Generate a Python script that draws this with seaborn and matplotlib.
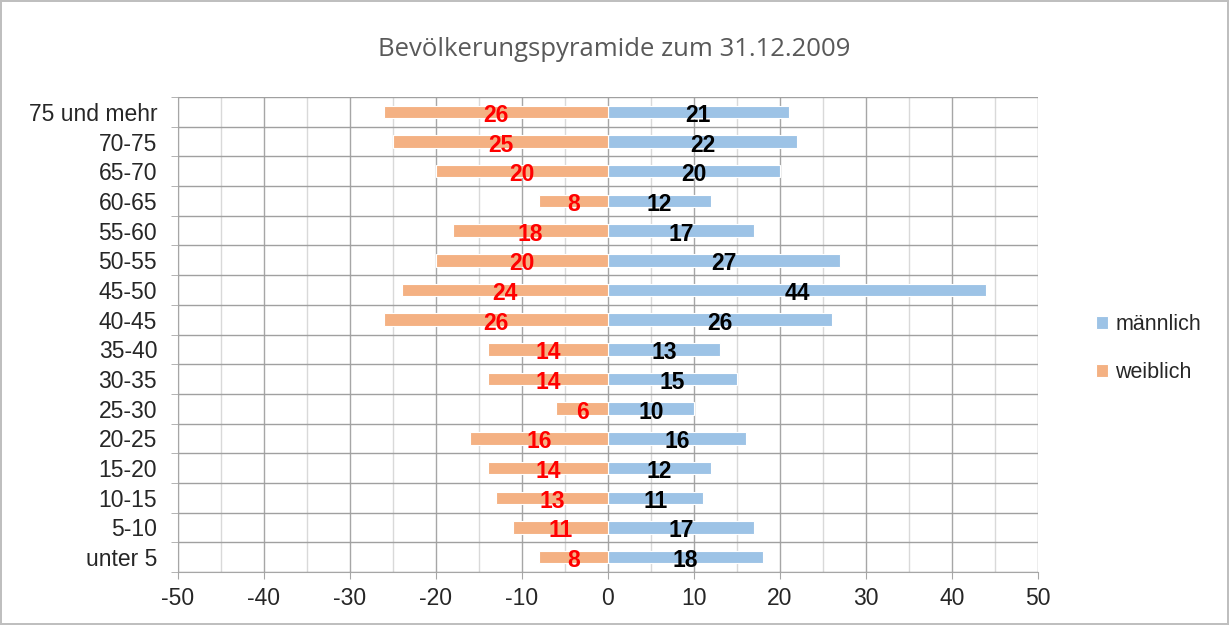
import pandas as pd
import matplotlib.pyplot as plt
import seaborn as sns
from matplotlib.ticker import MultipleLocator, FuncFormatter

# Daten
altersgruppen = ['75 und mehr', '70-75', '65-70', '60-65', '55-60', '50-55', '45-50', '40-45',
                 '35-40', '30-35', '25-30', '20-25', '15-20', '10-15', '5-10', 'unter 5']
maennlich = [21, 22, 20, 12, 17, 27, 44, 26, 13, 15, 10, 16, 12, 11, 17, 18]
weiblich = [26, 25, 20, 8, 18, 20, 24, 26, 14, 14, 6, 16, 14, 13, 11, 8]

df = pd.DataFrame({
    'Alter': altersgruppen * 2,
    'Wert': maennlich + [-w for w in weiblich],
    'Geschlecht': ['männlich'] * len(altersgruppen) + ['weiblich'] * len(altersgruppen),
})

sns.set_style('white')
plt.rcParams['font.family'] = ['Liberation Sans', 'DejaVu Sans']

fig = plt.figure(figsize=(12.29, 6.25), dpi=100, edgecolor='#bfbfbf', linewidth=1.5)
ax = fig.add_axes([0.1448, 0.0848, 0.6998, 0.76])

sns.barplot(data=df, y='Alter', x='Wert', hue='Geschlecht', order=altersgruppen,
            palette={'männlich': '#9dc3e6', 'weiblich': '#f4b183'}, saturation=1,
            dodge=False, width=0.42, edgecolor='white', linewidth=0.8, ax=ax, zorder=3)

# Datenbeschriftungen
for cont, werte, farbe in [(ax.containers[0], maennlich, 'black'),
                           (ax.containers[1], weiblich, 'red')]:
    texte = ax.bar_label(cont, labels=[str(v) for v in werte], label_type='center',
                         color=farbe, fontsize=16.5, fontweight='bold')
    for t in texte:
        t.xyann = (0, -2.5)

ax.set_xlim(-50, 50)
ax.set_ylim(len(altersgruppen) - 0.5, -0.5)
ax.xaxis.set_major_locator(MultipleLocator(10))
ax.xaxis.set_minor_locator(MultipleLocator(5))
ax.xaxis.set_major_formatter(FuncFormatter(lambda v, p: '%d' % v))
ax.grid(axis='x', which='major', color='#a6a6a6', linewidth=1, zorder=0)
ax.grid(axis='x', which='minor', color='#d9d9d9', linewidth=1, zorder=0)
ax.set_yticks([i + 0.5 for i in range(-1, len(altersgruppen))], minor=True)
ax.grid(axis='y', which='minor', color='#a0a0a0', linewidth=1, zorder=0)
ax.tick_params(axis='y', which='major', length=0, labelsize=16.5, pad=15)
ax.tick_params(axis='y', which='minor', length=5, color='#a6a6a6', direction='out', left=True)
ax.tick_params(axis='x', which='major', length=5, color='#a6a6a6', labelsize=16.5, bottom=True, pad=6)
ax.tick_params(axis='x', which='minor', length=0)
for s in ax.spines.values():
    s.set_visible(False)
ax.spines['left'].set_visible(True)
ax.spines['left'].set_color('#a6a6a6')
ax.spines['bottom'].set_visible(True)
ax.spines['bottom'].set_color('#a6a6a6')

ax.set_xlabel('')
ax.set_ylabel('')
fig.suptitle('Bevölkerungspyramide zum 31.12.2009', x=0.5, y=0.94, fontsize=18.5,
             color='#595959', family=['Open Sans', 'DejaVu Sans'])

ax.legend(loc='center left', bbox_to_anchor=(1.045, 0.47), frameon=False, fontsize=15.5,
          handlelength=0.55, handleheight=0.55, handletextpad=0.35, labelspacing=1.25)

fig.savefig('out.png', dpi=100)
